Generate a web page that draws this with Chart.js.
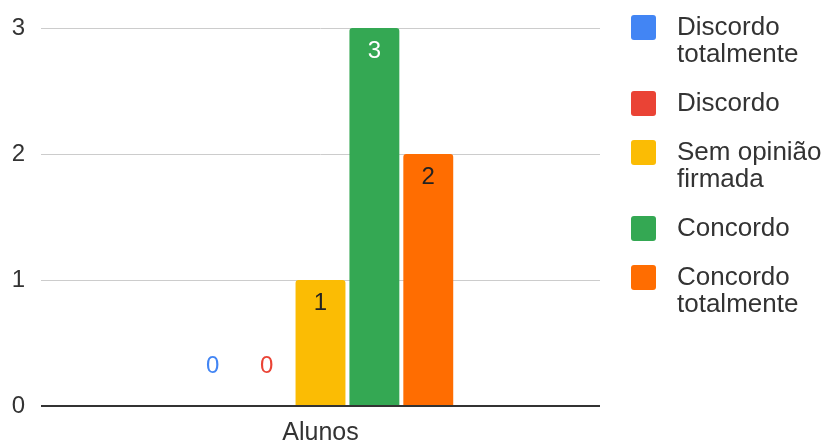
<!DOCTYPE html>
<html>
<head>
<meta charset="utf-8">
<script src="https://cdn.jsdelivr.net/npm/chart.js@4"></script>
<style>
  html, body { margin: 0; padding: 0; background: #fff; }
  #wrap { width: 831px; height: 443px; }
</style>
</head>
<body>
<div id="wrap"><canvas id="chart" width="831" height="443"></canvas></div>
<script>
// dados
const categories = ["Alunos"];
const seriesLines = [
  ["Discordo", "totalmente"],
  ["Discordo"],
  ["Sem opinião", "firmada"],
  ["Concordo"],
  ["Concordo", "totalmente"]
];
const seriesValues = [[0], [0], [1], [3], [2]];
const seriesColors = ["#4285F4", "#EA4335", "#FBBC04", "#34A853", "#FF6D01"];
const labelColors = ["#4285F4", "#EA4335", "#222222", "#FFFFFF", "#222222"];
const yTicks = [0, 1, 2, 3];

const FONT = "'Liberation Sans', Arial, sans-serif";
const TEXT = "#333";

// rótulos de valor nas barras
const valueLabels = {
  id: "valueLabels",
  afterDatasetsDraw(chart) {
    const ctx = chart.ctx;
    ctx.save();
    ctx.font = "24px " + FONT;
    ctx.textAlign = "center";
    ctx.textBaseline = "middle";
    chart.data.datasets.forEach((ds, i) => {
      const meta = chart.getDatasetMeta(i);
      meta.data.forEach((bar, j) => {
        const v = ds.data[j];
        if (v > 0) {
          ctx.fillStyle = labelColors[i];
          ctx.fillText(String(v), bar.x, bar.y + 23);
        } else {
          ctx.fillStyle = seriesColors[i];
          ctx.fillText(String(v), bar.x, bar.base - 40);
        }
      });
    });
    ctx.restore();
  }
};

// legenda com várias linhas
const sideLegend = {
  id: "sideLegend",
  afterDraw(chart) {
    const ctx = chart.ctx;
    ctx.save();
    ctx.font = "26px " + FONT;
    ctx.textBaseline = "middle";
    ctx.textAlign = "left";
    let y = 28;
    seriesLines.forEach((lines, i) => {
      ctx.fillStyle = seriesColors[i];
      ctx.beginPath();
      ctx.roundRect(631, y - 13, 25, 25, 3);
      ctx.fill();
      ctx.fillStyle = TEXT;
      lines.forEach((t, k) => ctx.fillText(t, 677, y + k * 27));
      y += (lines.length - 1) * 27 + 49;
    });
    ctx.restore();
  }
};

new Chart(document.getElementById("chart"), {
  type: "bar",
  data: {
    labels: categories,
    datasets: seriesLines.map((lines, i) => ({
      label: lines.join(" "),
      data: seriesValues[i],
      backgroundColor: seriesColors[i],
      borderRadius: 3,
      borderSkipped: "bottom",
      barPercentage: 0.926,
      categoryPercentage: 0.482
    }))
  },
  options: {
    responsive: false,
    animation: false,
    layout: { padding: { top: 28, right: 231, left: 0, bottom: 0 } },
    plugins: { legend: { display: false }, tooltip: { enabled: false } },
    scales: {
      x: {
        grid: { display: false },
        border: { display: false },
        ticks: { color: TEXT, font: { family: FONT, size: 25 }, padding: 4 },
        afterFit(axis) { axis.height = 37; axis.paddingLeft = 0; axis.paddingRight = 0; }
      },
      y: {
        min: 0,
        max: 3,
        afterBuildTicks(axis) { axis.ticks = yTicks.map(v => ({ value: v })); },
        border: { display: false },
        grid: {
          drawTicks: false,
          color: c => (c.tick.value === 0 ? "#333" : "#ccc"),
          lineWidth: c => (c.tick.value === 0 ? 2 : 1)
        },
        ticks: { color: TEXT, font: { family: FONT, size: 24 }, padding: 16 },
        afterFit(axis) { axis.width = 41; axis.paddingTop = 0; axis.paddingBottom = 0; }
      }
    }
  },
  plugins: [valueLabels, sideLegend]
});
</script>
</body>
</html>
